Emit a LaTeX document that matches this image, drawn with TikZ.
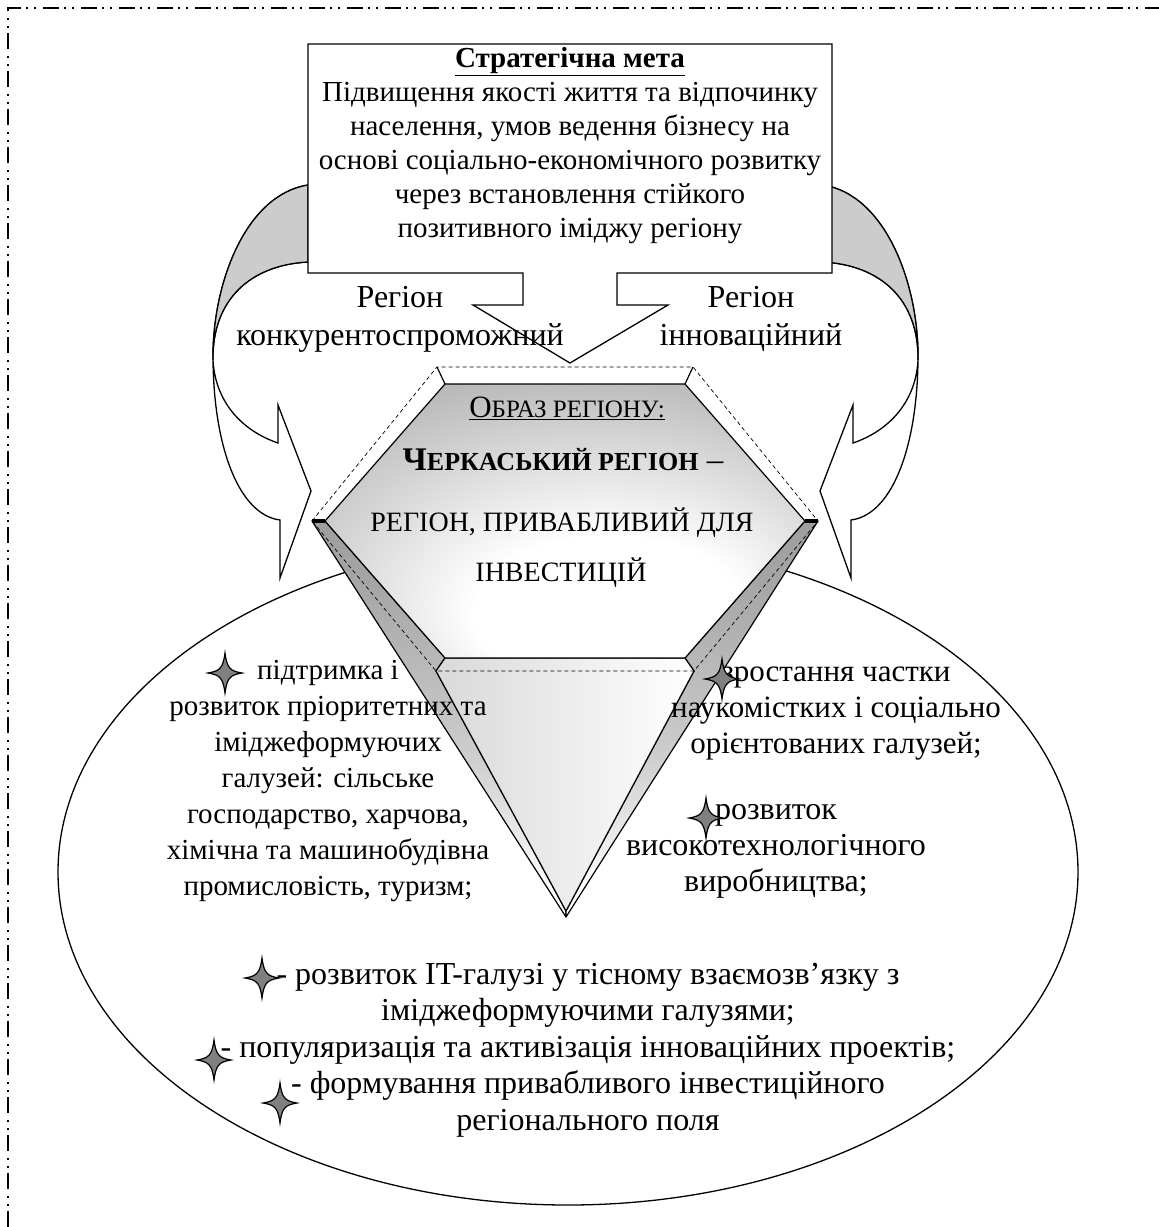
\documentclass[tikz,border=0pt]{standalone}
\usepackage{fontspec}
\setmainfont{Liberation Serif}
\usetikzlibrary{shapes.geometric}

\newcommand{\fsz}[2]{\fontsize{#1}{#2}\selectfont}
% fades used on the gem faces
\pgfdeclareverticalshading{stripfade}{100bp}{color(0bp)=(white);
  color(28bp)=(white); color(45bp)=(gray!38); color(67bp)=(gray!70);
  color(100bp)=(gray!95)}
\pgfdeclareradialshading{tableglow}{\pgfpoint{6bp}{-22bp}}{color(0bp)=(white);
  color(14bp)=(white); color(40bp)=(gray!65); color(60bp)=(gray!80)}

\begin{document}
\begin{tikzpicture}[x=1pt,y=-1pt,
   bordline/.style={line width=1.6pt,
                    dash pattern=on 16pt off 5pt on 2pt off 6pt on 2pt off 7pt},
   outl/.style={draw,line width=1.3pt,line join=miter},
   txt/.style={font=\fsz{29}{34},align=center,inner sep=0pt},
   facet/.style={draw,line width=1.2pt,line join=round},
   dashln/.style={line width=0.7pt,dash pattern=on 4pt off 3pt},
   sparkle/.pic={
     \draw[line width=1.2pt,fill=gray]
       (0,-20) .. controls (2,-5) and (5,-2) .. (17,0)
               .. controls (5,2) and (2,5) .. (0,20)
               .. controls (-2,5) and (-5,2) .. (-17,0)
               .. controls (-5,-2) and (-2,-5) .. (0,-20) -- cycle;
   },
   bendarrow/.pic={
     % front part of the bent arrow
     \draw[outl,fill=white]
       (308,185) .. controls (245,195) and (212,285) .. (213,360)
       .. controls (214,450) and (240,515) .. (280,520)
       -- (280,578) -- (311,491) -- (278,405) -- (278,443)
       .. controls (240,430) and (215,400) .. (213,360)
       .. controls (212,300) and (250,265) .. (308,262) -- cycle;
     % shaded back part
     \draw[outl,fill=gray!40]
       (308,185) .. controls (245,195) and (212,285) .. (213,360)
       .. controls (212,300) and (250,265) .. (308,262) -- cycle;
   }
  ]
  \useasboundingbox (0,0) rectangle (1159,1227);
  \draw[bordline] (8,1227) -- (8,8) -- (1159,8);

  % field with the directions
  \node[draw,line width=1.3pt,ellipse,minimum width=1020,minimum height=666,
        inner sep=0pt] (field) at (568,872) {};

  % bent arrows from the goal box to the gem
  \pic at (0,0) {bendarrow};
  \pic[xscale=-1] at (1131,0) {bendarrow};

  % goal box with the down arrow
  \draw[outl,fill=white] (308,44) -- (832,44) -- (832,273) -- (617,273)
     -- (617,305) -- (668,305) -- (570,363) -- (473,305) -- (523,305)
     -- (523,273) -- (308,273) -- cycle;
  \node[txt] (goal) at (570,146) {\textbf{\underline{Стратегічна мета}}\\
     Підвищення якості життя та відпочинку\\
     населення, умов ведення бізнесу на\\
     основі соціально-економічного розвитку\\
     через встановлення стійкого\\
     позитивного іміджу регіону};
  \node[txt,font=\fsz{32}{38}] (rcomp) at (400,319) {Регіон\\конкурентоспроможний};
  \node[txt,font=\fsz{32}{38}] (rinno) at (751,319) {Регіон\\інноваційний};

  % gem
  \coordinate (gL)  at (312,521);
  \coordinate (gR)  at (818,521);
  \coordinate (tL)  at (325,521);
  \coordinate (tTL) at (445,384);
  \coordinate (tTR) at (685,384);
  \coordinate (tR)  at (805,521);
  \coordinate (tBR) at (685,658);
  \coordinate (tBL) at (445,658);
  \coordinate (pBL) at (436,671);
  \coordinate (pBR) at (694,671);
  \coordinate (dTL) at (437,367);
  \coordinate (dTR) at (693,367);
  \coordinate (tip)   at (566,917);
  \coordinate (tipin) at (566,911);

  \path[facet,shading=stripfade] (gL) -- (tL) -- (tBL) -- (pBL) -- (tipin) -- (tip) -- cycle;
  \path[facet,shading=stripfade] (gR) -- (tR) -- (tBR) -- (pBR) -- (tipin) -- (tip) -- cycle;
  \path[facet,left color=gray!30,right color=white]
     (tBL) -- (tBR) -- (pBR) -- (tipin) -- (pBL) -- cycle;
  \path[facet,shading=tableglow]
     (tL) -- (tTL) -- (tTR) -- (tR) -- (tBR) -- (tBL) -- cycle;
  \draw[dashln] (gL) -- (dTL) -- (dTR) -- (gR) -- (pBR) -- (pBL) -- cycle;
  \draw[facet] (dTL) -- (tTL) (dTR) -- (tTR);
  \draw[line width=4pt] (gL) -- (tL) (tR) -- (gR);

  \node[inner sep=0pt,font=\fsz{31}{34}] (imgT) at (567,408)
     {\underline{О{\fsz{25}{28}БРАЗ РЕГІОНУ:}}};
  \node[inner sep=0pt,font=\fsz{33}{36}] (imgN) at (563,460)
     {\textbf{Ч{\fsz{26}{30}ЕРКАСЬКИЙ РЕГІОН}} –};
  \node[inner sep=0pt,font=\fsz{28}{30}] (imgA) at (562,523) {РЕГІОН, ПРИВАБЛИВИЙ ДЛЯ};
  \node[inner sep=0pt,font=\fsz{28}{30}] (imgB) at (561,573) {ІНВЕСТИЦІЙ};

  % directions
  \node[txt,font=\fsz{29}{36}] (leftA) at (328,781) {підтримка і\\
     розвиток пріоритетних та\\іміджеформуючих\\галузей: сільське\\
     господарство, харчова,\\хімічна та машинобудівна\\промисловість, туризм;};
  \node[txt,font=\fsz{31}{36}] (rightA) at (836,714)
     {зростання частки\\наукомістких і соціально\\орієнтованих галузей;};
  \node[txt,font=\fsz{32}{36}] (rightB) at (776,851)
     {розвиток\\високотехнологічного\\виробництва;};
  \node[txt,font=\fsz{32}{36.5}] (bottomA) at (588,1050)
     {- розвиток IT-галузі у тісному взаємозв’язку з\\
      іміджеформуючими галузями;\\
      - популяризація та активізація інноваційних проектів;\\
      - формування привабливого інвестиційного\\
      регіонального поля};

  \pic at (225,673)  {sparkle};
  \pic at (722,679)  {sparkle};
  \pic at (706,818)  {sparkle};
  \pic at (262,978)  {sparkle};
  \pic at (214,1060) {sparkle};
  \pic at (280,1103) {sparkle};
\end{tikzpicture}
\end{document}
